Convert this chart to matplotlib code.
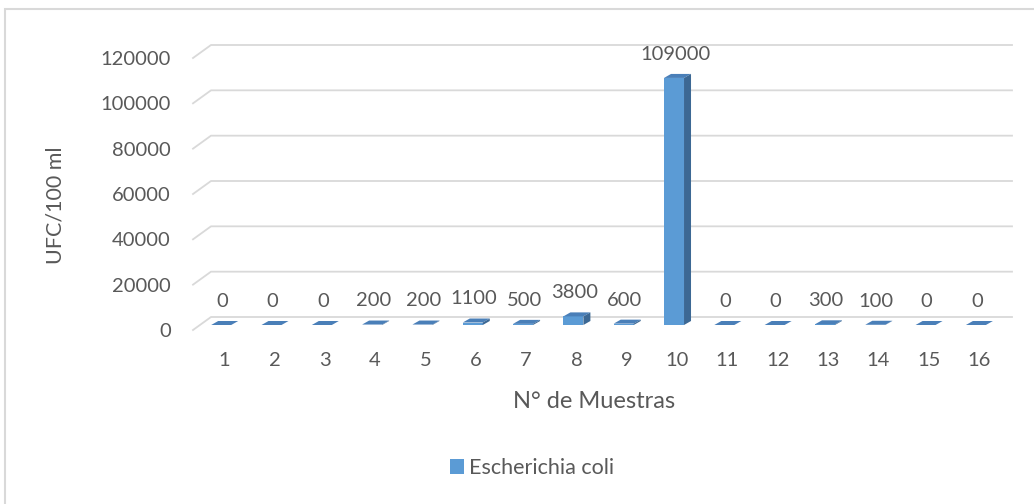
import matplotlib
matplotlib.use("Agg")
import matplotlib.pyplot as plt
from matplotlib.patches import Polygon, Patch, Rectangle

plt.rcParams['font.family'] = ['Lato', 'DejaVu Sans']

# data
muestras = [str(i) for i in range(1, 17)]
ufc = [0, 0, 0, 200, 200, 1100, 500, 3800, 600, 109000, 0, 0, 300, 100, 0, 0]
y_ticks = [0, 20000, 40000, 60000, 80000, 100000, 120000]
serie = 'Escherichia coli'

TXT = '#595959'
GRID = '#D9D9D9'
FRONT = '#5B9BD5'
TOP = '#4A7FB8'
SIDE = '#3C6894'

W, H = 1034, 504
fig = plt.figure(figsize=(W / 100, H / 100), dpi=100)

# front plane of the pseudo 3d plot, in pixels
left, right, bottom, top = 193, 994, 330, 58
ax = fig.add_axes([left / W, 1 - bottom / H, (right - left) / W, (bottom - top) / H])
x0, x1 = 0.38, 16.3
ymax = 120000
ax.set_xlim(x0, x1)
ax.set_ylim(0, ymax)

cpp = (x1 - x0) / (right - left)   # category units per pixel
vpp = ymax / (bottom - top)         # value units per pixel

# back wall gridlines with depth diagonal
DX, DY = 18 * cpp, 13 * vpp
for t in y_ticks:
    ax.plot([x0, x0 + DX, x1 + DX], [t, t + DY, t + DY], color=GRID, lw=1.3,
            clip_on=False, zorder=1)

# bars: front face + top + side
xs = list(range(1, 17))
base = 5 * vpp
fl, fr = -13 * cpp, 7 * cpp
bdx, bdy = 7 * cpp, 4 * vpp
ax.bar([x + (fl + fr) / 2 for x in xs], ufc, width=fr - fl, bottom=base,
       color=FRONT, zorder=3, clip_on=False)
for x, v in zip(xs, ufc):
    t = base + v
    ax.add_patch(Polygon([(x + fl, t), (x + fr, t), (x + fr + bdx, t + bdy), (x + fl + bdx, t + bdy)],
                         closed=True, facecolor=TOP, edgecolor='none', zorder=4, clip_on=False))
    ax.add_patch(Polygon([(x + fr, base), (x + fr + bdx, base + bdy), (x + fr + bdx, t + bdy), (x + fr, t)],
                         closed=True, facecolor=SIDE, edgecolor='none', zorder=4, clip_on=False))
    ax.annotate(f'{v}', (x - 2 * cpp, t + bdy), xytext=(0, 8), textcoords='offset points',
                ha='center', va='bottom', fontsize=14.5, color=TXT, zorder=5,
                annotation_clip=False)

ax.set_xticks(xs)
ax.set_xticklabels(muestras)
ax.set_yticks(y_ticks)
ax.set_yticklabels([str(t) for t in y_ticks])
ax.tick_params(axis='x', length=0, pad=16, labelsize=14.5, labelcolor=TXT)
ax.tick_params(axis='y', length=0, pad=16, labelsize=14.5, labelcolor=TXT)
for s in ax.spines.values():
    s.set_visible(False)
ax.patch.set_visible(False)

fig.text(56 / W, 1 - 205 / H, 'UFC/100 ml', rotation=90, ha='center', va='center',
         fontsize=15.5, color=TXT)
fig.text(594 / W, 1 - 402 / H, 'N° de Muestras', ha='center', va='center',
         fontsize=17, color=TXT)

fig.legend(handles=[Patch(facecolor=FRONT, edgecolor='none')], labels=[serie],
           loc='center', bbox_to_anchor=(532 / W, 1 - 468 / H), frameon=False,
           handlelength=0.65, handleheight=0.65, handletextpad=0.25,
           fontsize=15.5, labelcolor=TXT)

# chart area border
fig.patches.append(Rectangle((4.5 / W, -0.1), 1.2, 1 - 8.5 / H + 0.1, transform=fig.transFigure,
                             fill=False, edgecolor=GRID, lw=1.5))

fig.savefig('out.png', dpi=100)
